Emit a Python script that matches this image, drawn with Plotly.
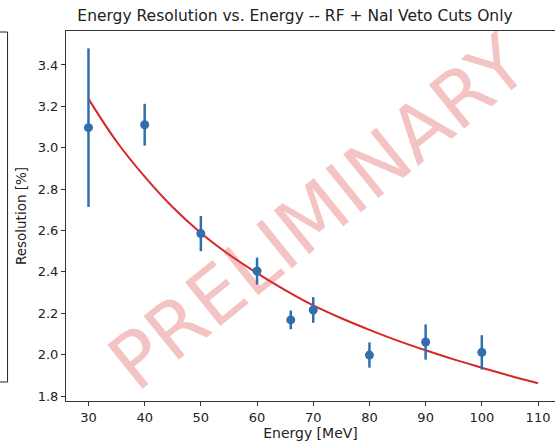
import plotly.graph_objects as go

# Data points
energy = [30, 40, 50, 60, 66, 70, 80, 90, 100]
resolution = [3.097, 3.111, 2.585, 2.404, 2.168, 2.216, 1.998, 2.061, 2.011]
res_err = [0.383, 0.101, 0.085, 0.065, 0.045, 0.062, 0.061, 0.085, 0.083]

# Fit curve
fit_energy = [30, 35, 40, 45, 50, 55, 60, 65, 70, 75, 80, 85, 90, 95, 100, 105, 110]
fit_res = [3.236, 3.03, 2.86, 2.712, 2.588, 2.484, 2.394, 2.312, 2.238, 2.176, 2.12, 2.068, 2.021, 1.977, 1.937, 1.898, 1.862]

x_ticks = [30, 40, 50, 60, 70, 80, 90, 100, 110]
y_ticks = [1.8, 2.0, 2.2, 2.4, 2.6, 2.8, 3.0, 3.2, 3.4]

W, H = 555, 442
L, R, T, B = 65.5, 0, 31, 41
pw = W - L - R
ph = H - T - B

def px_x(px):
    return (px - L) / pw

def px_y(py):
    return (H - B - py) / ph

blue = "#2f6fae"
red = "#d62728"
font = "DejaVu Sans"

fig = go.Figure()
fig.add_trace(go.Scatter(
    x=fit_energy, y=fit_res, mode="lines", line=dict(color=red, width=2, shape="spline"),
    showlegend=False, hoverinfo="skip"))
fig.add_trace(go.Scatter(
    x=energy, y=resolution, mode="markers",
    marker=dict(color=blue, size=9),
    error_y=dict(type="data", array=res_err, visible=True, color=blue, thickness=2.5, width=0),
    showlegend=False))

fig.update_layout(
    width=W, height=H,
    margin=dict(l=L, r=R, t=T, b=B, pad=0),
    paper_bgcolor="white", plot_bgcolor="white",
    font=dict(family=font, size=13, color="#222"),
    title=dict(text="Energy Resolution vs. Energy -- RF + NaI Veto Cuts Only",
               x=295 / W, xanchor="center", y=1 - 16 / H, yanchor="middle",
               font=dict(family=font, size=15.5, color="#222")),
    xaxis=dict(range=[26, 26 + pw / 5.625], tickvals=x_ticks, ticktext=[str(v) for v in x_ticks],
               showgrid=False, zeroline=False, showline=True, linecolor="#333", linewidth=1,
               mirror=True, ticks="outside", ticklen=4, tickcolor="#333",
               title=dict(text="Energy [MeV]", standoff=4, font=dict(size=14))),
    yaxis=dict(range=[1.776, 3.564], tickvals=y_ticks, ticktext=["%.1f" % v for v in y_ticks],
               showgrid=False, zeroline=False, showline=True, linecolor="#333", linewidth=1,
               mirror=False, ticks="outside", ticklen=4, tickcolor="#333",
               title=dict(text="Resolution [%]", standoff=7, font=dict(size=13.5))),
)

# PRELIMINARY watermark
fig.add_annotation(
    text="PRELIMINARY", xref="paper", yref="paper", x=px_x(318), y=px_y(212),
    xanchor="center", yanchor="middle", showarrow=False, textangle=-39,
    font=dict(family=font, size=77, color="rgba(220,60,60,0.3)"))

# partial box at the left edge
fig.add_shape(type="rect", xref="paper", yref="paper",
              x0=px_x(-2), x1=px_x(7), y0=px_y(382), y1=px_y(32),
              line=dict(color="#222", width=1), fillcolor="rgba(0,0,0,0)")

fig.write_html("out.html")
